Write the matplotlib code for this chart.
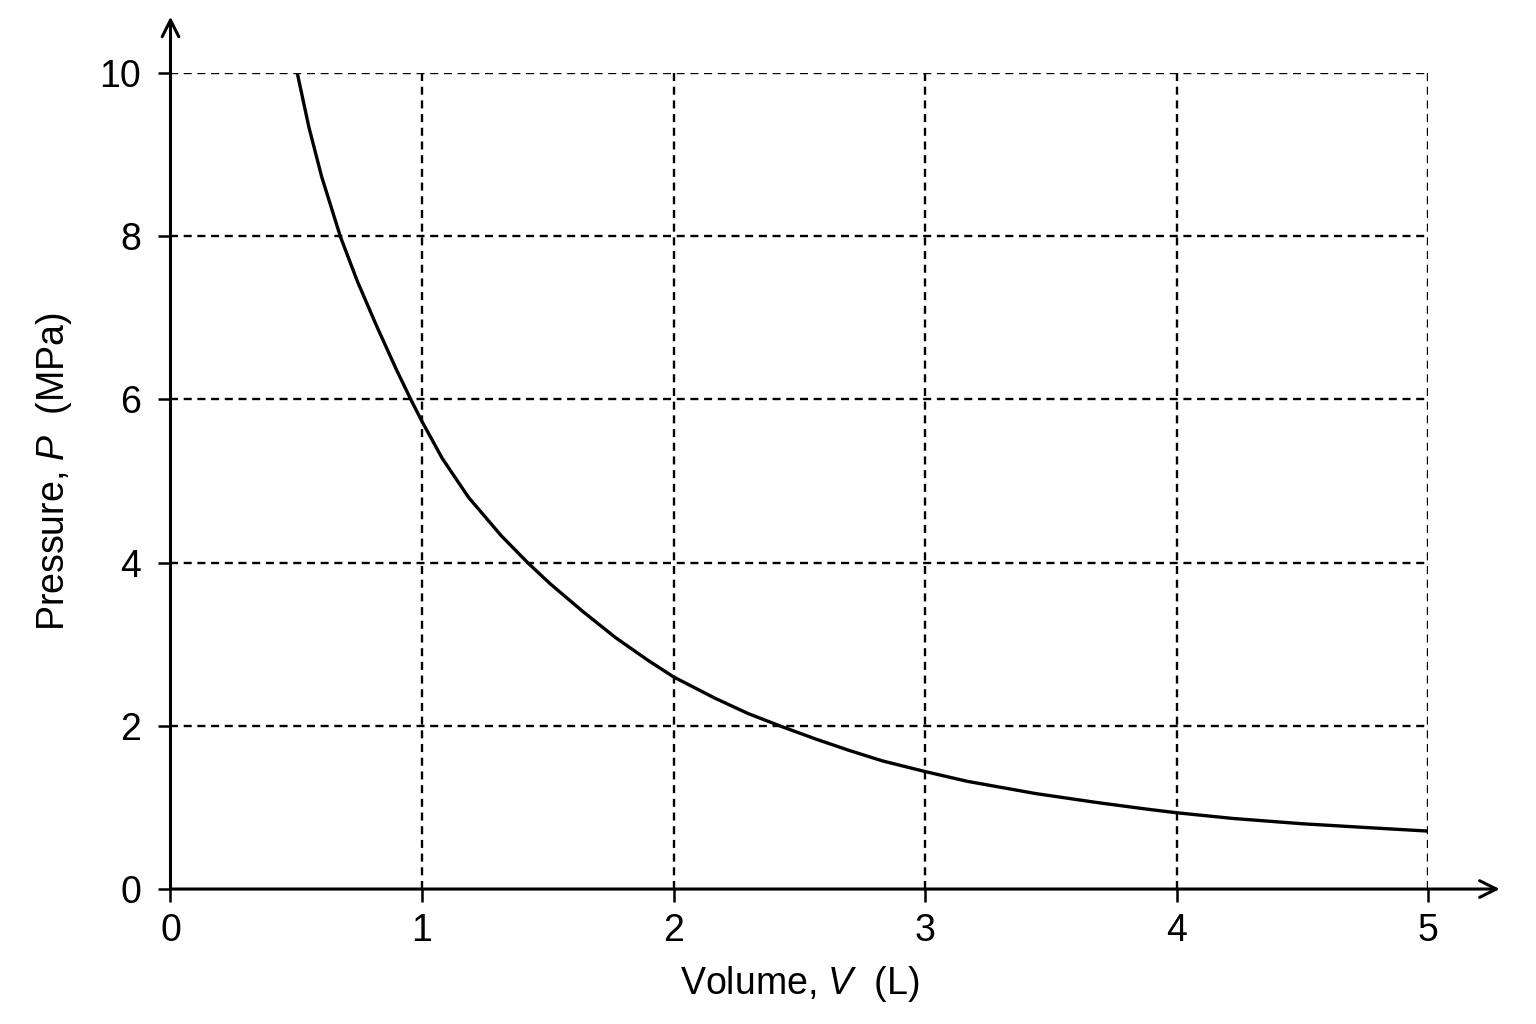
#!/usr/bin/env python3

import matplotlib
matplotlib.use('Agg')
import matplotlib.pyplot as plt

# pressure-volume curve, values
volume = [0.504, 0.550, 0.601, 0.676, 0.744, 0.821, 0.899, 0.957, 1.0,
          1.080, 1.185, 1.315, 1.42, 1.51, 1.64, 1.77, 1.90, 2.0,
          2.164, 2.297, 2.431, 2.564, 2.697, 2.831, 3.0, 3.168, 3.44,
          3.684, 3.88, 4.0, 4.224, 4.50, 4.775, 5.0]
pressure = [10.0, 9.34, 8.73, 7.99, 7.44, 6.89, 6.36, 5.99, 5.73,
            5.28, 4.80, 4.33, 4.0, 3.74, 3.40, 3.08, 2.80, 2.60,
            2.34, 2.15, 1.99, 1.84, 1.70, 1.57, 1.44, 1.32, 1.17,
            1.06, 0.98, 0.935, 0.865, 0.80, 0.75, 0.71]

x_ticks = [0, 1, 2, 3, 4, 5]
y_ticks = [0, 2, 4, 6, 8, 10]

plt.rcParams['font.family'] = 'Liberation Sans'
plt.rcParams['mathtext.fontset'] = 'custom'
plt.rcParams['mathtext.rm'] = 'Liberation Sans'
plt.rcParams['mathtext.it'] = 'Liberation Sans:italic'

fig = plt.figure(figsize=(15.36, 10.24), dpi=100)
ax = fig.add_axes([0.1110, 0.1318, 0.8187, 0.7969])

ax.set_xlim(0, 5)
ax.set_ylim(0, 10)

# dashed grid, including the top and right border lines
grid_style = dict(color='black', lw=1.7, linestyle=(0, (3.4, 2.4)), zorder=1)
for xv in x_ticks[1:]:
    ax.plot([xv, xv], [0, 10], **grid_style)
for yv in y_ticks[1:]:
    ax.plot([0, 5], [yv, yv], **grid_style)

ax.plot(volume, pressure, color='black', lw=2.4, zorder=3,
        solid_capstyle='butt', solid_joinstyle='round')

for side in ['top', 'right', 'left', 'bottom']:
    ax.spines[side].set_visible(False)

# axes drawn as arrows
arrow = dict(arrowstyle='->', lw=2.2, color='black',
             shrinkA=0, shrinkB=0, mutation_scale=30)
ax.annotate('', xy=(1.057, 0), xytext=(0, 0), xycoords='axes fraction',
            arrowprops=arrow, annotation_clip=False, zorder=4)
ax.annotate('', xy=(0, 1.069), xytext=(0, 0), xycoords='axes fraction',
            arrowprops=arrow, annotation_clip=False, zorder=4)

ax.set_xticks(x_ticks)
ax.set_yticks(y_ticks)
ax.set_xticklabels([str(v) for v in x_ticks])
ax.set_yticklabels([str(v) for v in y_ticks])
ax.tick_params(axis='both', direction='out', length=9, width=1.8,
               labelsize=27, color='black')
ax.tick_params(axis='y', pad=12)
ax.tick_params(axis='x', pad=8)

ax.set_xlabel('Volume, $\\mathit{V}$  (L)', fontsize=27)
ax.set_ylabel('Pressure, $\\mathit{P}$  (MPa)', fontsize=27)
ax.xaxis.set_label_coords(0.5, -0.092)
ax.yaxis.set_label_coords(-0.077, 0.512)

fig.savefig('out.png', dpi=100, facecolor='white')
